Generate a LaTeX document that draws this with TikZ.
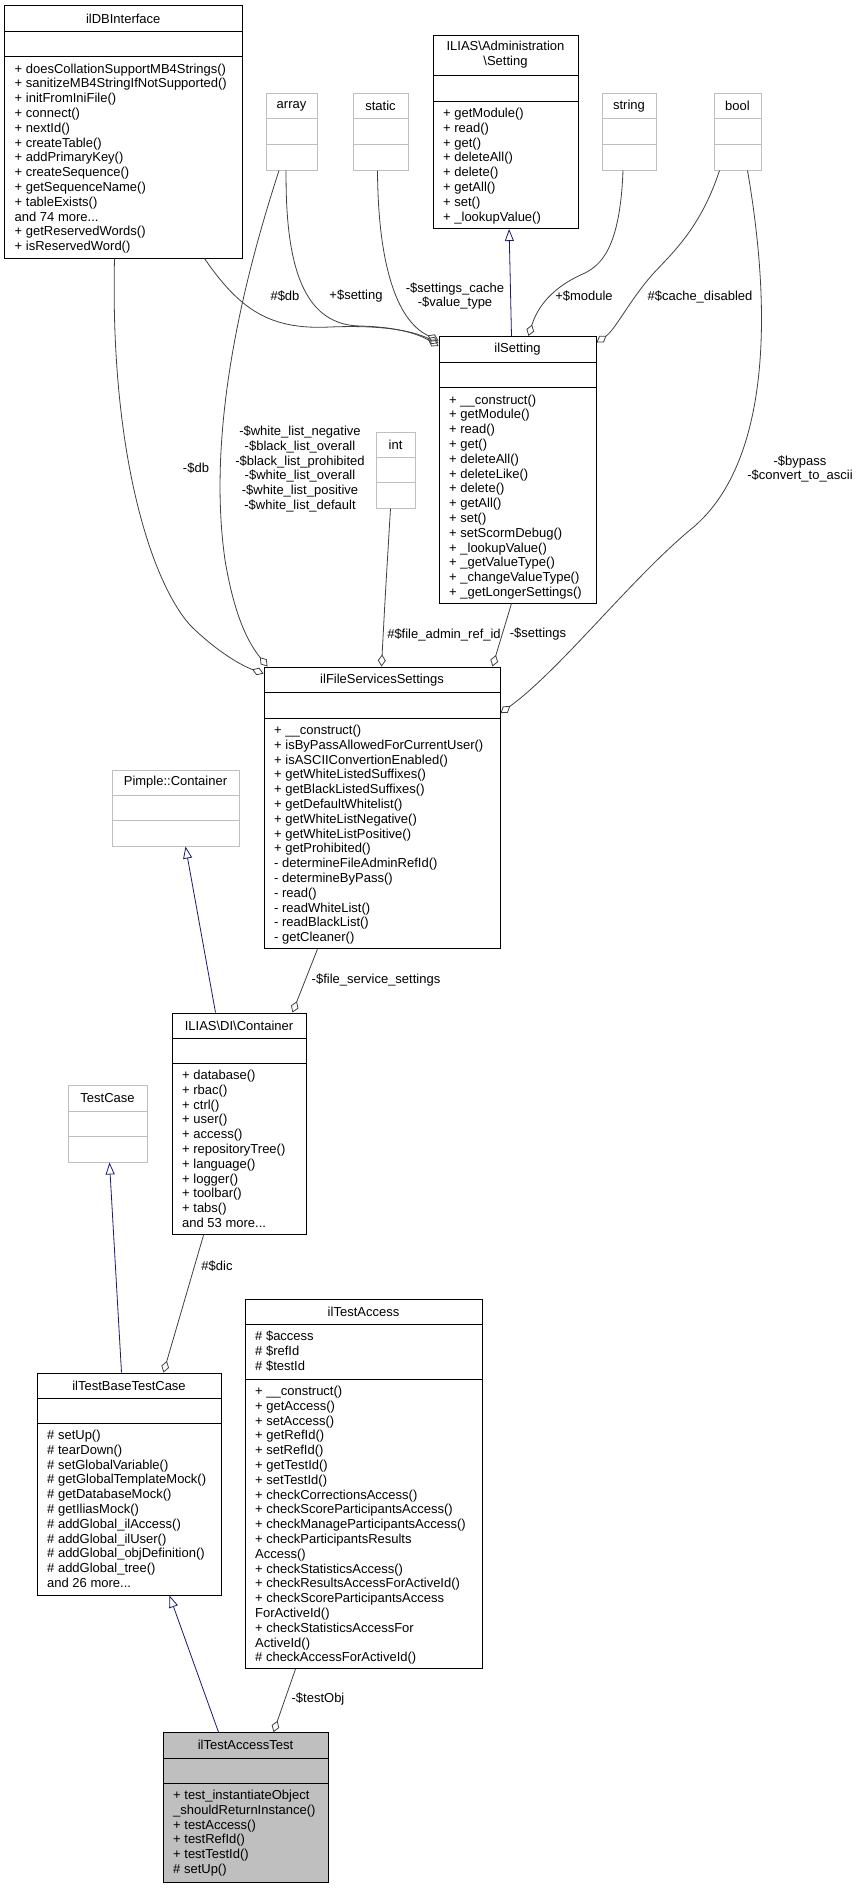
\documentclass[tikz,border=0pt]{standalone}
\usepackage{fontspec}
\setmainfont{Liberation Sans}
\usetikzlibrary{arrows.meta,fit}
\definecolor{edgec}{HTML}{404040}
\definecolor{inhc}{HTML}{191970}
\definecolor{lgray}{HTML}{BFBFBF}
\newcommand\umlbox[8]{%
  \node[#2,inner sep=0pt,fit={(#3,#4)(#5,#6)}] (#1) {};
  \draw[#2] (#3,#7) -- (#5,#7);
  \draw[#2] (#3,#8) -- (#5,#8);}
\newcommand\umltitle[4]{\node[align=center] at ({(#1+#2)/2},{(#3)}) {#4};}
\newcommand\umltext[3]{\node[anchor=north west,align=left,inner sep=0pt] at ({#1+10},{#2+6}) {\strut#3};}
\begin{document}
\begin{tikzpicture}[x=1pt,y=-1pt,font=\fontsize{13}{14.8}\selectfont,
  cbox/.style={draw=black,line width=1pt},
  gbox/.style={draw=lgray,line width=1pt},
  fbox/.style={draw=black,fill=lgray,line width=1pt},
  agg/.style={draw=edgec,line width=0.8pt,-{Diamond[open,length=12,width=8]}},
  inh/.style={draw=inhc,line width=0.8pt,-{Triangle[open,length=12,width=9]}},
  lbl/.style={align=center,inner sep=0pt}]
\useasboundingbox (0,0) rectangle (855,1888);
% classes
\umlbox{db}{cbox}{4.5}{5.5}{242}{258}{31}{56.5}
\umltitle{4.5}{242}{18.5}{ilDBInterface}
\umltext{4.5}{56.5}{+ doesCollationSupportMB4Strings()\\+ sanitizeMB4StringIfNotSupported()\\+ initFromIniFile()\\+ connect()\\+ nextId()\\+ createTable()\\+ addPrimaryKey()\\+ createSequence()\\+ getSequenceName()\\+ tableExists()\\and 74 more...\\+ getReservedWords()\\+ isReservedWord()}
\umlbox{adm}{cbox}{433}{35}{578}{228.5}{75}{101}
\umltitle{433}{578}{55}{ILIAS\textbackslash Administration\\\textbackslash Setting}
\umltext{433}{101}{+ getModule()\\+ read()\\+ get()\\+ deleteAll()\\+ delete()\\+ getAll()\\+ set()\\+ \_lookupValue()}
\umlbox{arr}{gbox}{266}{93}{317}{170}{118.6}{144}
\umltitle{266}{317}{106}{array}
\umlbox{sta}{gbox}{353}{93}{408}{170}{118.6}{144}
\umltitle{353}{408}{106}{static}
\umlbox{str}{gbox}{602}{93}{656}{170}{118.6}{144}
\umltitle{602}{656}{106}{string}
\umlbox{bool}{gbox}{714}{93}{761}{170}{118.6}{144}
\umltitle{714}{761}{106}{bool}
\umlbox{set}{cbox}{439}{336.5}{596}{603}{362}{387.5}
\umltitle{439}{596}{349}{ilSetting}
\umltext{439}{387.5}{+ \_\_construct()\\+ getModule()\\+ read()\\+ get()\\+ deleteAll()\\+ deleteLike()\\+ delete()\\+ getAll()\\+ set()\\+ setScormDebug()\\+ \_lookupValue()\\+ \_getValueType()\\+ \_changeValueType()\\+ \_getLongerSettings()}
\umlbox{int}{gbox}{376}{432}{415}{508}{457}{482}
\umltitle{376}{415}{444.5}{int}
\umlbox{fss}{cbox}{264}{667}{500}{948.5}{692.6}{718}
\umltitle{264}{500}{680}{ilFileServicesSettings}
\umltext{264}{718}{+ \_\_construct()\\+ isByPassAllowedForCurrentUser()\\+ isASCIIConvertionEnabled()\\+ getWhiteListedSuffixes()\\+ getBlackListedSuffixes()\\+ getDefaultWhitelist()\\+ getWhiteListNegative()\\+ getWhiteListPositive()\\+ getProhibited()\\- determineFileAdminRefId()\\- determineByPass()\\- read()\\- readWhiteList()\\- readBlackList()\\- getCleaner()}
\umlbox{pim}{gbox}{112}{770}{239}{846}{795}{820.5}
\umltitle{112}{239}{782.5}{Pimple::Container}
\umlbox{di}{cbox}{172}{1013}{306}{1234.7}{1038}{1063}
\umltitle{172}{306}{1025.5}{ILIAS\textbackslash DI\textbackslash Container}
\umltext{172}{1063}{+ database()\\+ rbac()\\+ ctrl()\\+ user()\\+ access()\\+ repositoryTree()\\+ language()\\+ logger()\\+ toolbar()\\+ tabs()\\and 53 more...}
\umlbox{tc}{gbox}{68}{1085.7}{147}{1162}{1111}{1136.6}
\umltitle{68}{147}{1098.5}{TestCase}
\umlbox{ta}{cbox}{245}{1299}{482}{1668.5}{1324}{1379}
\umltitle{245}{482}{1311.5}{ilTestAccess}
\umltext{245}{1324}{\# \$access\\\# \$refId\\\# \$testId}
\umltext{245}{1379}{+ \_\_construct()\\+ getAccess()\\+ setAccess()\\+ getRefId()\\+ setRefId()\\+ getTestId()\\+ setTestId()\\+ checkCorrectionsAccess()\\+ checkScoreParticipantsAccess()\\+ checkManageParticipantsAccess()\\+ checkParticipantsResults\\Access()\\+ checkStatisticsAccess()\\+ checkResultsAccessForActiveId()\\+ checkScoreParticipantsAccess\\ForActiveId()\\+ checkStatisticsAccessFor\\ActiveId()\\\# checkAccessForActiveId()}
\umlbox{tb}{cbox}{37}{1373}{221}{1595}{1398}{1423}
\umltitle{37}{221}{1385.5}{ilTestBaseTestCase}
\umltext{37}{1423}{\# setUp()\\\# tearDown()\\\# setGlobalVariable()\\\# getGlobalTemplateMock()\\\# getDatabaseMock()\\\# getIliasMock()\\\# addGlobal\_ilAccess()\\\# addGlobal\_ilUser()\\\# addGlobal\_objDefinition()\\\# addGlobal\_tree()\\and 26 more...}
\umlbox{tat}{fbox}{163}{1732.6}{328}{1882}{1758}{1783}
\umltitle{163}{328}{1745.3}{ilTestAccessTest}
\umltext{163}{1783}{+ test\_instantiateObject\\\_shouldReturnInstance()\\+ testAccess()\\+ testRefId()\\+ testTestId()\\\# setUp()}
% edges
\draw[inh] ([xshift=73]set.north west) -- ([xshift=76.6]adm.south west);
\draw[agg] ([xshift=-38]db.south east) .. controls (240,310) and (270,330) .. (330,327) .. controls (380,325) and (410,330) .. ([yshift=-7]set.north west);
\draw[agg] ([xshift=20.6]arr.south west) .. controls (285,280) and (310,325) .. (360,326) .. controls (400,327) and (420,335) .. ([yshift=-10]set.north west);
\draw[agg] ([xshift=25]sta.south west) .. controls (378,260) and (395,320) .. ([yshift=-4.5]set.north west);
\draw[agg] ([xshift=21.5]str.south west) .. controls (620,250) and (600,265) .. (585,273) .. controls (545,290) and (535,315) .. ([xshift=90]set.north west);
\draw[agg] ([xshift=6]bool.south west) .. controls (700,230) and (670,255) .. (652,275) .. controls (630,300) and (615,330) .. ([yshift=-6.5]set.north east);
\draw[agg] ([xshift=34]bool.south west) .. controls (775,330) and (765,470) .. (690,530) .. controls (630,580) and (560,670) .. ([yshift=-46.6]fss.north east);
\draw[agg] ([xshift=110.5]db.south west) .. controls (110,450) and (150,580) .. (190,625) .. controls (215,650) and (240,665) .. ([yshift=-7]fss.north west);
\draw[agg] ([xshift=13.5]arr.south west) .. controls (250,260) and (205,420) .. (225,560) .. controls (235,620) and (250,645) .. ([xshift=4]fss.north west);
\draw[agg] ([xshift=15]int.south west) .. controls (385,600) .. ([xshift=118]fss.north west);
\draw[agg] ([xshift=73]set.south west) -- ([xshift=229]fss.north west);
\draw[inh] ([xshift=44]di.north west) -- ([xshift=74]pim.south west);
\draw[agg] ([xshift=54]fss.south west) -- ([xshift=121]di.north west);
\draw[inh] ([xshift=85]tb.north west) -- ([xshift=42]tc.south west);
\draw[agg] ([xshift=32]di.south west) -- ([xshift=127]tb.north west);
\draw[inh] ([xshift=56]tat.north west) -- ([xshift=133]tb.south west);
\draw[agg] ([xshift=51]ta.south west) -- ([xshift=111]tat.north west);
% labels
\node[lbl] at (285,296.5) {\#\$db};
\node[lbl] at (356,296.5) {+\$setting};
\node[lbl] at (455,296) {-\$settings\_cache\\-\$value\_type};
\node[lbl] at (584,296.5) {+\$module};
\node[lbl] at (700,296.5) {\#\$cache\_disabled};
\node[lbl] at (196,468.5) {-\$db};
\node[lbl] at (300,469) {-\$white\_list\_negative\\-\$black\_list\_overall\\-\$black\_list\_prohibited\\-\$white\_list\_overall\\-\$white\_list\_positive\\-\$white\_list\_default};
\node[lbl] at (800,469) {-\$bypass\\-\$convert\_to\_ascii};
\node[lbl] at (444,634.5) {\#\$file\_admin\_ref\_id};
\node[lbl] at (538,634.5) {-\$settings};
\node[lbl] at (376,979.6) {-\$file\_service\_settings};
\node[lbl] at (217,1266) {\#\$dic};
\node[lbl] at (318,1699) {-\$testObj};
\end{tikzpicture}
\end{document}
